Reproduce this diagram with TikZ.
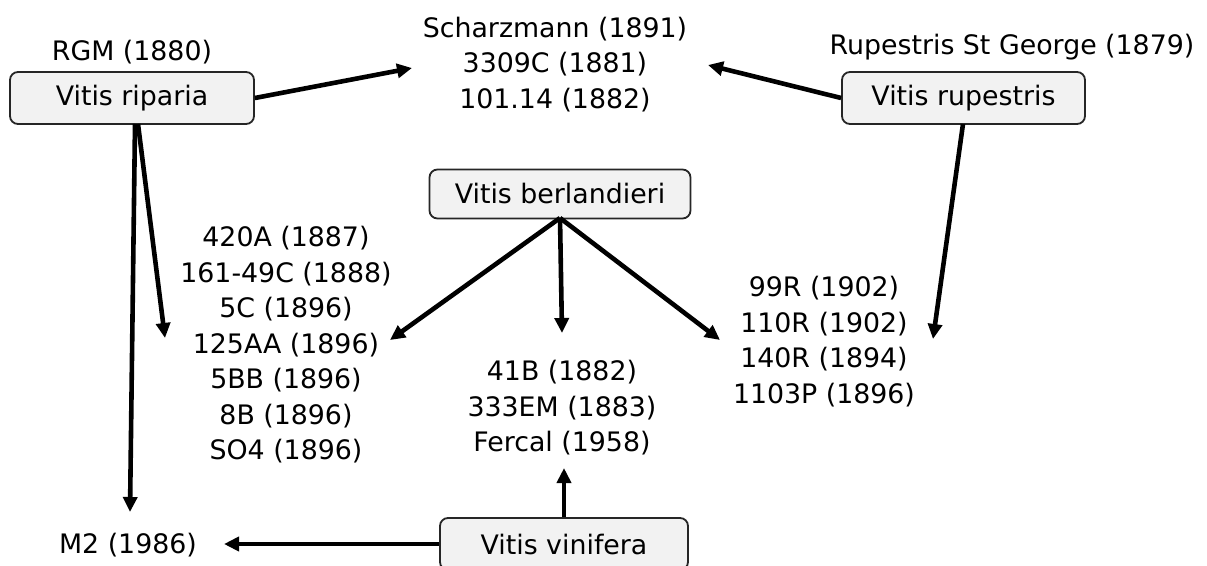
\documentclass[tikz,border=0pt]{standalone}
\usepackage{fontspec}
\setmainfont{DejaVu Sans}
\usetikzlibrary{arrows.meta}
\begin{document}
\begin{tikzpicture}[x=1pt,y=-1pt,
  every node/.style={font=\fontsize{26.8}{35.5}\selectfont, inner sep=0pt},
  spbox/.style={draw=black!85, line width=1.8pt, fill=black!5, rounded corners=8pt, minimum height=52pt, align=center},
  lbl/.style={align=center},
  arr/.style={line width=4.6pt, -{Triangle[length=15pt,width=14pt]}}
]
\useasboundingbox (0,0) rectangle (1207,565);
% boxes
\node[spbox, minimum width=244pt] (rip) at (132,98) {Vitis riparia};
\node[spbox, minimum width=243pt] (rup) at (963.5,98) {Vitis rupestris};
\node[spbox, minimum width=261pt, minimum height=49pt] (ber) at (560,194) {Vitis berlandieri};
\node[spbox, minimum width=248pt] (vin) at (564,544) {Vitis vinifera};
% labels
\node[lbl] (rgm) at (132,52) {RGM (1880)};
\node[lbl] (rsg) at (1012,47) {Rupestris St George (1879)};
\node[lbl] (sch) at (555,64.5) {Scharzmann (1891)\\3309C (1881)\\101.14 (1882)};
\node[lbl] (left) at (286,345) {420A (1887)\\161-49C (1888)\\5C (1896)\\125AA (1896)\\5BB (1896)\\8B (1896)\\SO4 (1896)};
\node[lbl] (mid) at (562,408) {41B (1882)\\333EM (1883)\\Fercal (1958)};
\node[lbl] (right) at (824,341.5) {99R (1902)\\110R (1902)\\140R (1894)\\1103P (1896)};
\node[lbl] (m2) at (128,545) {M2 (1986)};
% arrow end coordinates
\coordinate (schL) at (412,68);
\coordinate (schR) at (708,65);
\coordinate (ripA) at (135,124);
\coordinate (ripB) at (138,124);
\coordinate (m2top) at (130,512);
\coordinate (leftA) at (165,338);
\coordinate (leftB) at (390,340);
\coordinate (midtop) at (562,333);
\coordinate (rightL) at (720,340);
\coordinate (rightR) at (933,339);
\coordinate (rupB) at (963,124);
\coordinate (berB) at (560,218);
\coordinate (midbot) at (564,468);
\coordinate (m2R) at (224,544);
% arrows
\draw[arr] (rip.east) -- (schL);
\draw[arr] (rup.west) -- (schR);
\draw[arr] (ripA) -- (m2top);
\draw[arr] (ripB) -- (leftA);
\draw[arr] (rupB) -- (rightR);
\draw[arr] (berB) -- (leftB);
\draw[arr] (berB) -- (midtop);
\draw[arr] (berB) -- (rightL);
\draw[arr] (vin.north) -- (midbot);
\draw[arr] (vin.west) -- (m2R);
\end{tikzpicture}
\end{document}
